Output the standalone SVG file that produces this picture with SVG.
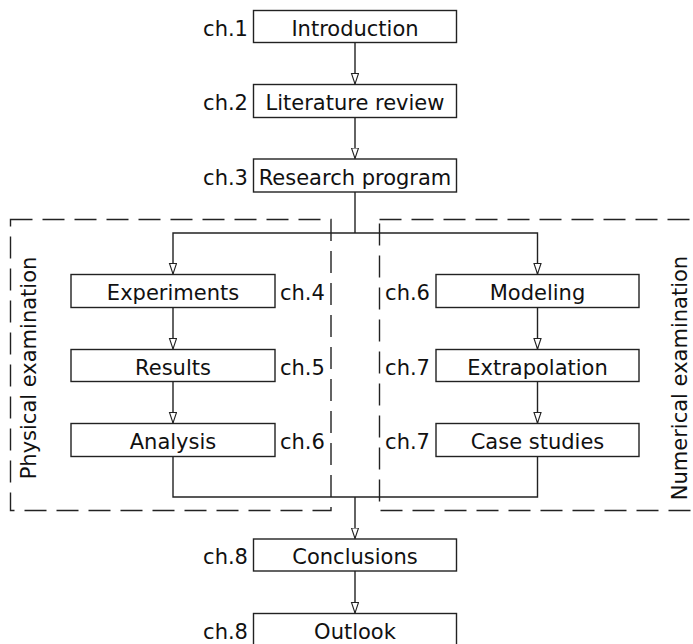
<svg xmlns="http://www.w3.org/2000/svg" width="693" height="644" viewBox="0 0 693 644">
<style>
.box{fill:#fff;stroke:#222;stroke-width:1.4}
.t{font-family:"DejaVu Sans",Verdana,sans-serif;font-size:21px;fill:#111}
.c{text-anchor:middle}
.e{text-anchor:end}
.ln{fill:none;stroke:#222;stroke-width:1.4}
.dash{fill:none;stroke:#222;stroke-width:1.4;stroke-dasharray:22 10}
</style>
<defs>
<marker id="arr" markerUnits="userSpaceOnUse" markerWidth="12" markerHeight="10" refX="11" refY="4" orient="auto">
<path d="M0.5,0.5 L11,4 L0.5,7.5 z" fill="#fff" stroke="#222" stroke-width="1.1"/>
</marker>
</defs>
<g id="groups">
<rect class="dash" x="10.5" y="219.5" width="320.5" height="291"/>
<rect class="dash" x="379.5" y="219.5" width="330" height="291"/>
<text class="t c" transform="translate(35.5,368) rotate(-90)">Physical examination</text>
<text class="t c" transform="translate(686.5,378) rotate(-90)">Numerical examination</text>
</g>
<g id="connectors">
<path class="ln" d="M355,42.5 V84" marker-end="url(#arr)"/>
<path class="ln" d="M355,117.5 V158.5" marker-end="url(#arr)"/>
<path class="ln" d="M355,192 V233"/>
<path class="ln" d="M355,233 H173 V274" marker-end="url(#arr)"/>
<path class="ln" d="M355,233 H537.5 V274" marker-end="url(#arr)"/>
<path class="ln" d="M173,307.5 V349" marker-end="url(#arr)"/>
<path class="ln" d="M173,381.5 V423" marker-end="url(#arr)"/>
<path class="ln" d="M537.5,307.5 V349" marker-end="url(#arr)"/>
<path class="ln" d="M537.5,381.5 V423" marker-end="url(#arr)"/>
<path class="ln" d="M173,456.5 V497 H537.5 V456.5"/>
<path class="ln" d="M355,497 V538.5" marker-end="url(#arr)"/>
<path class="ln" d="M355,571 V613" marker-end="url(#arr)"/>
</g>
<g id="introduction">
<rect class="box" x="253.5" y="10.5" width="203" height="32"/>
<text class="t c" x="355" y="36">Introduction</text>
<text class="t e" x="248" y="36">ch.1</text>
</g>
<g id="literature-review">
<rect class="box" x="253.5" y="84.5" width="203" height="33"/>
<text class="t c" x="355" y="110">Literature review</text>
<text class="t e" x="248" y="110">ch.2</text>
</g>
<g id="research-program">
<rect class="box" x="253.5" y="159" width="203" height="33"/>
<text class="t c" x="355" y="184.5">Research program</text>
<text class="t e" x="248" y="184.5">ch.3</text>
</g>
<g id="experiments">
<rect class="box" x="71" y="274.5" width="204" height="33"/>
<text class="t c" x="173" y="300">Experiments</text>
<text class="t" x="280" y="300">ch.4</text>
</g>
<g id="results">
<rect class="box" x="71" y="349.5" width="204" height="32"/>
<text class="t c" x="173" y="374.5">Results</text>
<text class="t" x="280" y="374.5">ch.5</text>
</g>
<g id="analysis">
<rect class="box" x="71" y="423.5" width="204" height="33"/>
<text class="t c" x="173" y="449">Analysis</text>
<text class="t" x="280" y="449">ch.6</text>
</g>
<g id="modeling">
<rect class="box" x="436" y="274.5" width="203" height="33"/>
<text class="t c" x="537.5" y="300">Modeling</text>
<text class="t e" x="430" y="300">ch.6</text>
</g>
<g id="extrapolation">
<rect class="box" x="436" y="349.5" width="203" height="32"/>
<text class="t c" x="537.5" y="374.5">Extrapolation</text>
<text class="t e" x="430" y="374.5">ch.7</text>
</g>
<g id="case-studies">
<rect class="box" x="436" y="423.5" width="203" height="33"/>
<text class="t c" x="537.5" y="449">Case studies</text>
<text class="t e" x="430" y="449">ch.7</text>
</g>
<g id="conclusions">
<rect class="box" x="253.5" y="539" width="203" height="32"/>
<text class="t c" x="355" y="564">Conclusions</text>
<text class="t e" x="248" y="564">ch.8</text>
</g>
<g id="outlook">
<rect class="box" x="253.5" y="613.5" width="203" height="33"/>
<text class="t c" x="355" y="639">Outlook</text>
<text class="t e" x="248" y="639">ch.8</text>
</g>
</svg>
